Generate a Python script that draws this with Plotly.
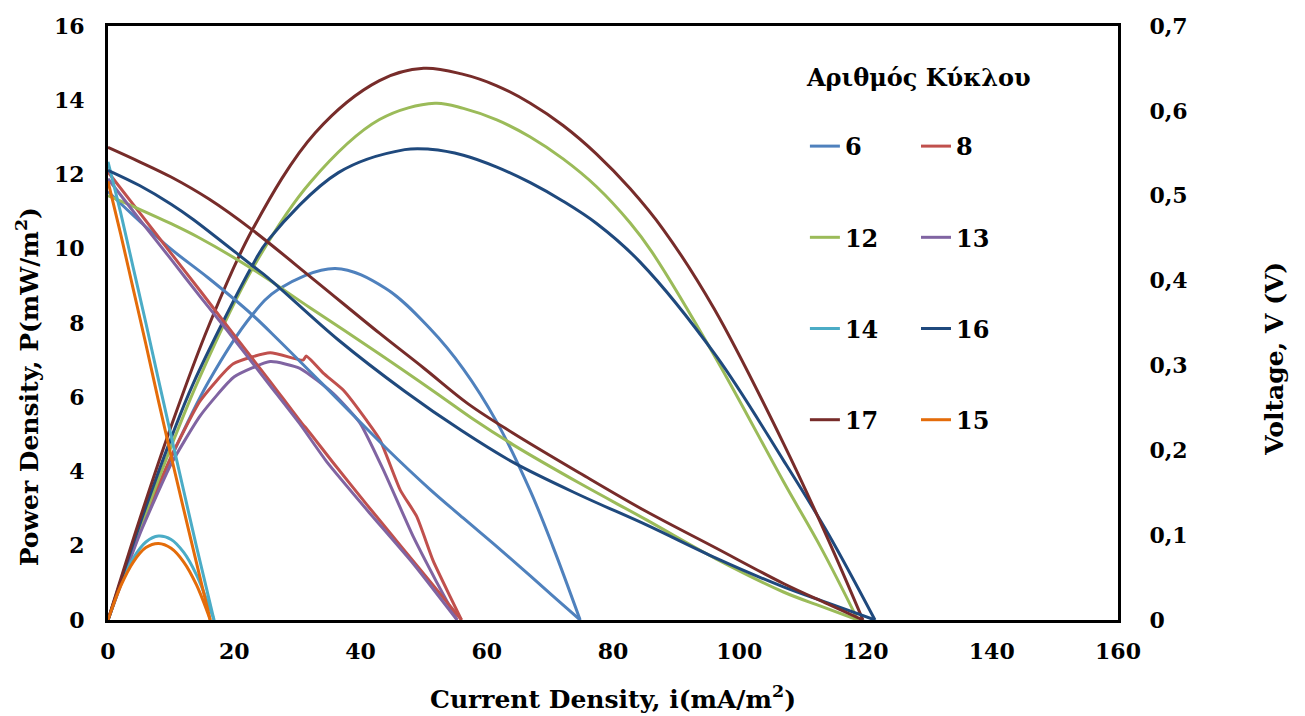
import plotly.graph_objects as go

# ---------------- data ----------------
series_names = ["6", "8", "12", "13", "14", "16", "17", "15"]
colors = ["#4F81BD", "#C0504D", "#9BBB59", "#8064A2", "#4BACC6", "#1F497D", "#772C2A", "#E46C0A"]

# cycle 6
iv_6 = [0, 5, 10, 15.9, 22.8, 27, 36, 44, 51, 56.3, 61.6, 66.9, 70.5, 74.8]
v_6 = [0.505, 0.47, 0.437, 0.403, 0.36, 0.33, 0.263, 0.203, 0.154, 0.12, 0.0865, 0.052, 0.028, 0]
ip_6 = [0, 5, 10, 15.9, 22.8, 27, 36, 44, 51, 56.3, 61.6, 66.9, 70.5, 74.8]
p_6 = [0, 2.35, 4.37, 6.41, 8.21, 8.91, 9.47, 8.93, 7.85, 6.76, 5.33, 3.48, 1.97, 0]

# cycle 8
iv_8 = [0, 5, 10, 14.6, 19.85, 25.7, 30.9, 31.4, 35.7, 41, 46.3, 51.5, 56]
v_8 = [0.528, 0.48, 0.432, 0.388, 0.337, 0.281, 0.23, 0.226, 0.185, 0.136, 0.088, 0.041, 0]
ip_8 = [0, 5, 10, 14.6, 19.85, 25.7, 30.9, 31.4, 34.1, 37.3, 41, 43.1, 46.3, 48.9, 51.5, 54.2, 56]
p_8 = [0, 2.4, 4.4, 5.9, 6.9, 7.2, 7.0, 7.11, 6.65, 6.19, 5.37, 4.85, 3.5, 2.79, 1.6, 0.63, 0]

# cycle 12
iv_12 = [0, 5, 10, 14.3, 22.8, 32, 43, 51.8, 58, 64.2, 74.8, 85.3, 96.4, 107, 113, 118.8]
v_12 = [0.50, 0.484, 0.467, 0.451, 0.414, 0.368, 0.3135, 0.2685, 0.236, 0.2064, 0.1608, 0.118, 0.0717, 0.033, 0.016, 0]
ip_12 = [0, 5, 10, 14.3, 22.8, 32, 43, 51.8, 56.3, 61.6, 66.9, 72.1, 77.4, 82.7, 86.1, 96.4, 107, 113, 118.8]
p_12 = [0, 2.42, 4.67, 6.45, 9.44, 11.78, 13.48, 13.92, 13.78, 13.47, 13.01, 12.42, 11.67, 10.70, 9.93, 7.02, 3.73, 1.93, 0]

# cycle 13
iv_13 = [0, 5, 10, 14.6, 18.8, 25.7, 30.4, 34.6, 41, 48.4, 55.3]
v_13 = [0.52, 0.472, 0.425, 0.381, 0.342, 0.276, 0.231, 0.187, 0.13, 0.066, 0]
ip_13 = [0, 5, 10, 14.6, 20, 25.7, 30.4, 35.7, 39.9, 43.6, 48.4, 52, 55.3]
p_13 = [0, 2.3, 4.2, 5.5, 6.55, 6.96, 6.78, 6.1, 5.31, 4.05, 2.23, 1.04, 0]

# cycle 14
iv_14 = [0, 2, 4, 6, 8, 10, 12, 14, 16.8]
v_14 = [0.54, 0.48, 0.415, 0.35, 0.283, 0.217, 0.152, 0.087, 0]
ip_14 = [0, 2, 4, 6, 8, 10, 12, 14, 16.8]
p_14 = [0, 0.96, 1.66, 2.1, 2.26, 2.17, 1.82, 1.22, 0]

# cycle 16
iv_16 = [0, 5, 10, 13.5, 22.8, 25.4, 36.5, 47, 56, 64.2, 74.8, 85.3, 96.4, 107, 114, 121.5]
v_16 = [0.53, 0.512, 0.490, 0.472, 0.418, 0.403, 0.330, 0.2696, 0.2232, 0.1857, 0.147, 0.112, 0.0726, 0.039, 0.0202, 0]
ip_16 = [0, 5, 10, 13.5, 22.8, 25.4, 36.5, 47, 51, 56.3, 61.6, 66.9, 72.1, 77.4, 84.3, 96.4, 107, 114, 121.5]
p_16 = [0, 2.56, 4.90, 6.37, 9.53, 10.24, 12.05, 12.67, 12.68, 12.52, 12.2, 11.78, 11.28, 10.68, 9.64, 7.1, 4.3, 2.35, 0]

# cycle 17
iv_17 = [0, 5, 10, 16, 22.8, 32.8, 43, 50, 57, 64, 75, 85, 96, 107, 114, 119.6]
v_17 = [0.557, 0.540, 0.522, 0.496, 0.460, 0.400, 0.338, 0.297, 0.255, 0.221, 0.172, 0.129, 0.086, 0.043, 0.019, 0]
ip_17 = [0, 5, 10, 16, 22.8, 32.8, 43, 50, 56, 61.6, 66.9, 72.1, 77.4, 82.7, 88, 96, 107, 114, 119.6]
p_17 = [0, 2.70, 5.22, 7.94, 10.49, 13.12, 14.53, 14.86, 14.71, 14.39, 13.92, 13.32, 12.55, 11.62, 10.51, 8.39, 4.76, 2.2, 0]

# cycle 15
iv_15 = [0, 2, 4, 6, 8, 10, 12, 14, 16.2]
v_15 = [0.517, 0.455, 0.39, 0.325, 0.258, 0.193, 0.13, 0.068, 0]
ip_15 = [0, 2, 4, 6, 8, 10, 12, 14, 16.2]
p_15 = [0, 0.91, 1.56, 1.95, 2.06, 1.93, 1.56, 0.95, 0]

v_currents = [iv_6, iv_8, iv_12, iv_13, iv_14, iv_16, iv_17, iv_15]
voltages = [v_6, v_8, v_12, v_13, v_14, v_16, v_17, v_15]
p_currents = [ip_6, ip_8, ip_12, ip_13, ip_14, ip_16, ip_17, ip_15]
powers = [p_6, p_8, p_12, p_13, p_14, p_16, p_17, p_15]
legend_ids = ["legend", "legend2", "legend", "legend2", "legend", "legend2", "legend", "legend2"]
noisy = {"8", "13"}

x_ticks = [0, 20, 40, 60, 80, 100, 120, 140, 160]
y_ticks = [0, 2, 4, 6, 8, 10, 12, 14, 16]
y2_ticks = [0, 0.1, 0.2, 0.3, 0.4, 0.5, 0.6, 0.7]

FONT = "DejaVu Serif"

fig = go.Figure()
for name, col, ivc, vol, ipc, pw, lg in zip(series_names, colors, v_currents, voltages,
                                            p_currents, powers, legend_ids):
    sm = 0.5 if name in noisy else 1.0
    fig.add_trace(go.Scatter(x=ipc, y=pw, mode="lines", name=name, legendgroup=name,
                             showlegend=False, yaxis="y",
                             line=dict(color=col, width=3, shape="spline", smoothing=sm)))
    fig.add_trace(go.Scatter(x=ivc, y=vol, mode="lines", name=name, legendgroup=name,
                             showlegend=True, yaxis="y2", legend=lg,
                             line=dict(color=col, width=3, shape="spline", smoothing=sm)))

axis_font = dict(family=FONT, size=22, color="black", weight="bold")
legend_font = dict(family=FONT, size=24, color="black", weight="bold")
title_font = dict(family=FONT, size=25, color="black", weight="bold")

fig.update_layout(
    width=1305, height=716,
    margin=dict(l=108, r=187, t=26, b=96),
    paper_bgcolor="white", plot_bgcolor="white",
    separators=",.",
    showlegend=True,
    xaxis=dict(range=[0, 160], tickvals=x_ticks, showgrid=False, zeroline=False,
               showline=True, linecolor="black", linewidth=3, mirror=True,
               ticks="", tickfont=axis_font, ticklabelstandoff=10),
    yaxis=dict(range=[0, 16], tickvals=y_ticks, showgrid=False, zeroline=False,
               showline=True, linecolor="black", linewidth=3,
               ticks="", tickfont=axis_font, ticklabelstandoff=16),
    yaxis2=dict(range=[0, 0.7], tickvals=y2_ticks, overlaying="y", side="right",
                showgrid=False, zeroline=False, showline=True, linecolor="black",
                linewidth=3, ticks="", tickfont=axis_font, ticklabelstandoff=24),
    legend=dict(x=0.69, y=0.835, xanchor="left", yanchor="top", bgcolor="rgba(0,0,0,0)",
                font=legend_font, tracegroupgap=57, traceorder="grouped"),
    legend2=dict(x=0.80, y=0.835, xanchor="left", yanchor="top", bgcolor="rgba(0,0,0,0)",
                 font=legend_font, tracegroupgap=57, traceorder="grouped"),
    annotations=[
        dict(text="Current Density, i(mA/m<sup>2</sup>)", xref="paper", yref="paper",
             x=0.5, y=-0.13, xanchor="center", yanchor="middle", showarrow=False,
             font=title_font),
        dict(text="Power Density, P(mW/m<sup>2</sup>)", xref="paper", yref="paper",
             x=-0.080, y=0.392, xanchor="center", yanchor="middle", textangle=-90,
             showarrow=False, font=title_font),
        dict(text="Voltage, V (V)", xref="paper", yref="paper",
             x=1.155, y=0.439, xanchor="center", yanchor="middle", textangle=-90,
             showarrow=False, font=title_font),
        dict(text="Αριθμός Κύκλου", xref="paper", yref="paper",
             x=0.802, y=0.914, xanchor="center", yanchor="middle", showarrow=False,
             font=dict(family=FONT, size=24, color="black", weight="bold")),
    ],
)

fig.write_html("out.html")
